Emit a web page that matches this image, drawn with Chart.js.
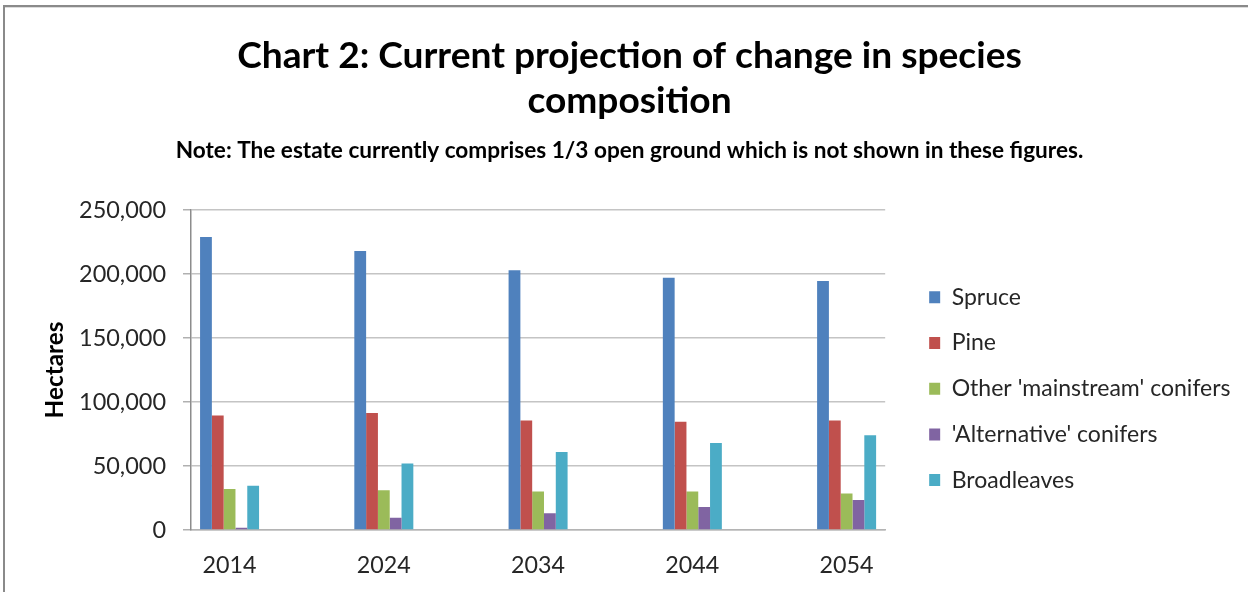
<!DOCTYPE html>
<html>
<head>
<meta charset="utf-8">
<script src="https://cdn.jsdelivr.net/npm/chart.js@4.4.1/dist/chart.umd.min.js"></script>
<style>
  html, body { margin: 0; padding: 0; background: #fff; overflow: hidden; }
  canvas { display: block; }
</style>
</head>
<body>
<canvas id="c" width="1248" height="592"></canvas>
<script>
// ---- Data ----
const years = ['2014', '2024', '2034', '2044', '2054'];
const spruce = [229000, 218000, 203000, 197000, 194500];
const pine = [89500, 91500, 85500, 84500, 85500];
const otherMainstream = [32000, 31000, 30000, 30000, 28500];
const alternative = [1800, 9500, 13000, 18000, 23500];
const broadleaves = [34500, 52000, 61000, 68000, 74000];
const yTickValues = [0, 50000, 100000, 150000, 200000, 250000];
const seriesNames = ['Spruce', 'Pine', "Other 'mainstream' conifers", "'Alternative' conifers", 'Broadleaves'];
const seriesColors = ['#4F81BD', '#C0504D', '#9BBB59', '#8064A2', '#4BACC6'];
const titleLines = ['Chart 2: Current projection of change in species', 'composition'];
const subtitleText = 'Note: The estate currently comprises 1/3 open ground which is not shown in these figures.';
const yTitleText = 'Hectares';

// ---- Font fitting (sizes chosen so text widths match the reference) ----
const FAM = 'Lato, "Open Sans", sans-serif';
const mctx = document.createElement('canvas').getContext('2d');
function fit(text, weight, target) {
  mctx.font = weight + ' 100px ' + FAM;
  return 100 * target / mctx.measureText(text).width;
}
const titleSize = fit(titleLines[0], 'bold', 785);
const subSize = fit(subtitleText, 'bold', 908);
const yTickSize = fit('250,000', 'normal', 87);
const xTickSize = fit('2014', 'normal', 54);
const yTitleSize = fit(yTitleText, 'bold', 97);
const legendSize = fit(seriesNames[2], 'normal', 279);

// ---- Layout parameters ----
const boxW = 11, boxH = 12;
const itemStep = 45.7;
const ih = Math.max(legendSize, boxH);
const legPad = itemStep - ih;
const legendLeft = 929 - legPad;
const dummyW = legendLeft - 885;
const legendWidth = legPad + boxW + legendSize / 2 + 279 + 10;
const legendRight = legendLeft + legendWidth;
const padR = 1248 - legendRight;
const padL = 1259 - legendRight;
const yAxisW = 191 - padL;
const yTitlePadTop = 55 - padL - 14;
const legTitleH = Math.max(2 * (297.3 - ih / 2) - 740 - legPad + 5 * itemStep, 1);

const datasets = [spruce, pine, otherMainstream, alternative, broadleaves].map((arr, k) => ({
  label: seriesNames[k],
  data: arr.map((v, i) => ({ x: i, y: v })),
  backgroundColor: seriesColors[k],
  borderWidth: 0,
  categoryPercentage: 0.3825,
  barPercentage: 1.0
}));

const framePlugin = {
  id: 'frame',
  beforeDraw(chart) {
    const c = chart.ctx;
    c.save();
    c.fillStyle = '#ffffff';
    c.fillRect(0, 0, chart.width, chart.height);
    c.restore();
  },
  afterDraw(chart) {
    const c = chart.ctx;
    c.save();
    c.fillStyle = '#8a8a8a';
    c.fillRect(3, 5, chart.width - 3, 2);
    c.fillRect(3, 5, 2, chart.height - 5);
    c.fillStyle = '#dcdcdc';
    c.fillRect(5, 7, chart.width - 5, 1);
    c.restore();
  }
};

new Chart(document.getElementById('c'), {
  type: 'bar',
  data: { datasets },
  options: {
    responsive: false,
    animation: false,
    devicePixelRatio: 1,
    layout: { padding: { top: 0, left: padL, right: padR, bottom: 0 } },
    plugins: {
      title: {
        display: true,
        text: titleLines,
        color: '#000',
        font: { family: FAM, size: titleSize, weight: 'bold', lineHeight: '45px' },
        padding: { top: 33.5, bottom: 0 }
      },
      subtitle: {
        display: true,
        text: subtitleText,
        color: '#000',
        font: { family: FAM, size: subSize, weight: 'bold', lineHeight: '22px' },
        padding: { top: 16.3, bottom: 48.2 }
      },
      legend: {
        display: true,
        position: 'right',
        align: 'center',
        fullSize: false,
        maxWidth: legendWidth + 2,
        title: {
          display: true,
          text: ' ',
          font: { family: FAM, size: 10, lineHeight: Math.max(legTitleH - 2, 1) + 'px' },
          padding: { top: 1, bottom: 1 }
        },
        labels: {
          boxWidth: boxW,
          boxHeight: boxH,
          padding: legPad,
          color: '#262626',
          font: { family: FAM, size: legendSize }
        }
      },
      tooltip: { enabled: false }
    },
    scales: {
      x: {
        type: 'linear',
        min: -0.25,
        max: 4.25,
        offset: false,
        grid: { display: false, drawTicks: false, offset: false },
        border: { display: true, color: '#b4b4b4', width: 1.5 },
        afterBuildTicks: (s) => { s.ticks = years.map((_, i) => ({ value: i })); },
        afterFit: (s) => { s.height = 62; },
        ticks: {
          autoSkip: false,
          maxRotation: 0,
          padding: 20,
          color: '#262626',
          font: { family: FAM, size: xTickSize, lineHeight: '30px' },
          callback: (v) => years[v] !== undefined ? years[v] : ''
        }
      },
      y: {
        type: 'linear',
        position: 'left',
        min: 0,
        max: 250000,
        afterBuildTicks: (s) => { s.ticks = yTickValues.map(v => ({ value: v })); },
        afterFit: (s) => { s.width = yAxisW; },
        grid: { color: '#c4c4c4', lineWidth: 1.5, drawTicks: true, tickLength: 8, tickColor: '#b0b0b0' },
        border: { display: true, color: '#8c8c8c', width: 1.5 },
        ticks: {
          padding: 17,
          color: '#262626',
          font: { family: FAM, size: yTickSize },
          callback: (v) => Number(v).toLocaleString('en-US')
        },
        title: {
          display: true,
          text: yTitleText,
          color: '#000',
          font: { family: FAM, size: yTitleSize, weight: 'bold', lineHeight: '28px' },
          padding: { top: yTitlePadTop, bottom: 0 }
        }
      },
      yR: {
        type: 'linear',
        position: 'right',
        display: true,
        grid: { display: false, drawTicks: false },
        border: { display: false },
        ticks: { display: false },
        afterFit: (s) => { s.width = dummyW; }
      }
    }
  },
  plugins: [framePlugin]
});
</script>
</body>
</html>
